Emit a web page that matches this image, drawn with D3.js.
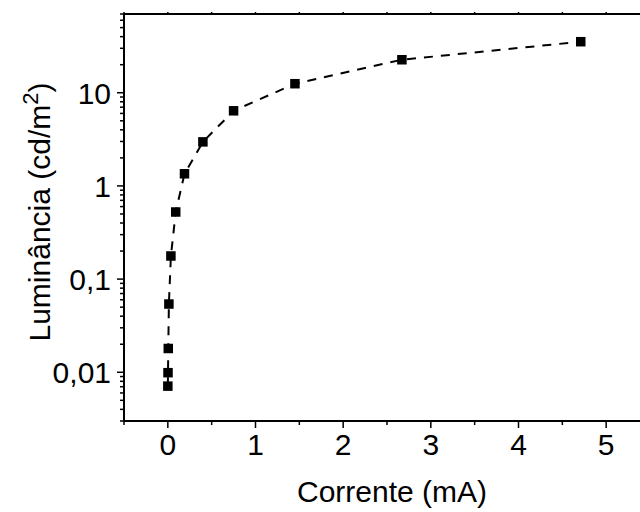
<!DOCTYPE html>
<html>
<head>
<meta charset="utf-8">
<style>
  body { margin: 0; background: #fff; }
  svg { display: block; }
</style>
</head>
<body>
<svg width="640" height="512"></svg>
<script src="https://d3js.org/d3.v7.min.js"></script>
<script>

// corrente (mA) vs luminância (cd/m2)
var corrente   = [0.0, 0.002, 0.005, 0.012, 0.035, 0.09, 0.19, 0.40, 0.75, 1.45, 2.67, 4.71];
var luminancia = [0.0071, 0.0099, 0.018, 0.054, 0.177, 0.525, 1.35, 2.97, 6.4, 12.5, 22.6, 35.3];

var xTicks = [0, 1, 2, 3, 4, 5];
var yTicks = [0.01, 0.1, 1, 10];
var yTickLabels = ["0,01", "0,1", "1", "10"];

var svg = d3.select("svg"),
    width = +svg.attr("width"),
    height = +svg.attr("height");

var margin = {left: 124, top: 14, right: -10, bottom: 91};

var x = d3.scaleLinear()
    .domain([-0.5, 5.5])
    .range([margin.left, width - margin.right]);

var y = d3.scaleLog()
    .domain([0.003, 70])
    .range([height - margin.bottom, margin.top]);

var font = "'Liberation Sans', Arial, Helvetica, sans-serif";

// minor ticks
var xMinor = d3.range(-0.5, 5.51, 0.5).filter(function(v) { return Math.abs(v - Math.round(v)) > 0.01; });
var yMinor = [];
[0.001, 0.01, 0.1, 1, 10].forEach(function(d) {
  for (var k = 2; k <= 9; k++) {
    var v = d * k;
    if (v >= 0.003 && v <= 70.001) yMinor.push(v);
  }
});

var axes = svg.append("g")
    .attr("stroke", "#000")
    .attr("stroke-width", 1.5);

// bottom axis
axes.append("line")
    .attr("x1", x(-0.5)).attr("x2", width)
    .attr("y1", y(0.003)).attr("y2", y(0.003))
    .attr("stroke-width", 2);
axes.selectAll(".xmaj").data(xTicks).enter().append("line")
    .attr("x1", function(d) { return x(d); }).attr("x2", function(d) { return x(d); })
    .attr("y1", y(0.003)).attr("y2", y(0.003) + 7);
axes.selectAll(".xmin").data(xMinor).enter().append("line")
    .attr("x1", function(d) { return x(d); }).attr("x2", function(d) { return x(d); })
    .attr("y1", y(0.003)).attr("y2", y(0.003) + 4);

// top axis
axes.append("line")
    .attr("x1", x(-0.5)).attr("x2", width)
    .attr("y1", y(70)).attr("y2", y(70))
    .attr("stroke-width", 2);
axes.selectAll(".xtop").data(xTicks.concat(xMinor)).enter().append("line")
    .attr("x1", function(d) { return x(d); }).attr("x2", function(d) { return x(d); })
    .attr("y1", y(70)).attr("y2", y(70) - 2);

// left axis
axes.append("line")
    .attr("x1", x(-0.5)).attr("x2", x(-0.5))
    .attr("y1", y(70)).attr("y2", y(0.003))
    .attr("stroke-width", 2);
axes.selectAll(".ymaj").data(yTicks).enter().append("line")
    .attr("x1", x(-0.5)).attr("x2", x(-0.5) - 7)
    .attr("y1", function(d) { return y(d); }).attr("y2", function(d) { return y(d); });
axes.selectAll(".ymin").data(yMinor).enter().append("line")
    .attr("x1", x(-0.5)).attr("x2", x(-0.5) - 4)
    .attr("y1", function(d) { return y(d); }).attr("y2", function(d) { return y(d); });

// tick labels
svg.append("g")
    .attr("font-family", font)
    .attr("font-size", 30)
  .selectAll("text")
  .data(xTicks)
  .enter().append("text")
    .attr("x", function(d) { return x(d); })
    .attr("y", 455)
    .attr("text-anchor", "middle")
    .text(function(d) { return d; });

svg.append("g")
    .attr("font-family", font)
    .attr("font-size", 30)
  .selectAll("text")
  .data(yTicks)
  .enter().append("text")
    .attr("x", x(-0.5) - 13)
    .attr("y", function(d) { return y(d); })
    .attr("dy", "0.36em")
    .attr("text-anchor", "end")
    .text(function(d, i) { return yTickLabels[i]; });

// axis titles
svg.append("text")
    .attr("x", 392)
    .attr("y", 502)
    .attr("text-anchor", "middle")
    .attr("font-family", font)
    .attr("font-size", 30)
    .text("Corrente (mA)");

var yTitle = svg.append("text")
    .attr("transform", "translate(50,212) rotate(-90)")
    .attr("text-anchor", "middle")
    .attr("font-family", font)
    .attr("font-size", 30);
yTitle.append("tspan").text("Luminância (cd/m");
yTitle.append("tspan").attr("dy", -12).attr("font-size", 22).text("2");
yTitle.append("tspan").attr("dy", 12).text(")");

// data line + markers
var line = d3.line()
    .x(function(d, i) { return x(corrente[i]); })
    .y(function(d, i) { return y(luminancia[i]); });

svg.append("path")
    .datum(corrente)
    .attr("d", line)
    .attr("fill", "none")
    .attr("stroke", "#000")
    .attr("stroke-width", 2)
    .attr("stroke-dasharray", "9,8");

svg.append("g")
  .selectAll("rect")
  .data(corrente)
  .enter().append("rect")
    .attr("x", function(d) { return x(d) - 4.75; })
    .attr("y", function(d, i) { return y(luminancia[i]) - 4.75; })
    .attr("width", 9.5)
    .attr("height", 9.5)
    .attr("fill", "#000");

</script>
</body>
</html>
